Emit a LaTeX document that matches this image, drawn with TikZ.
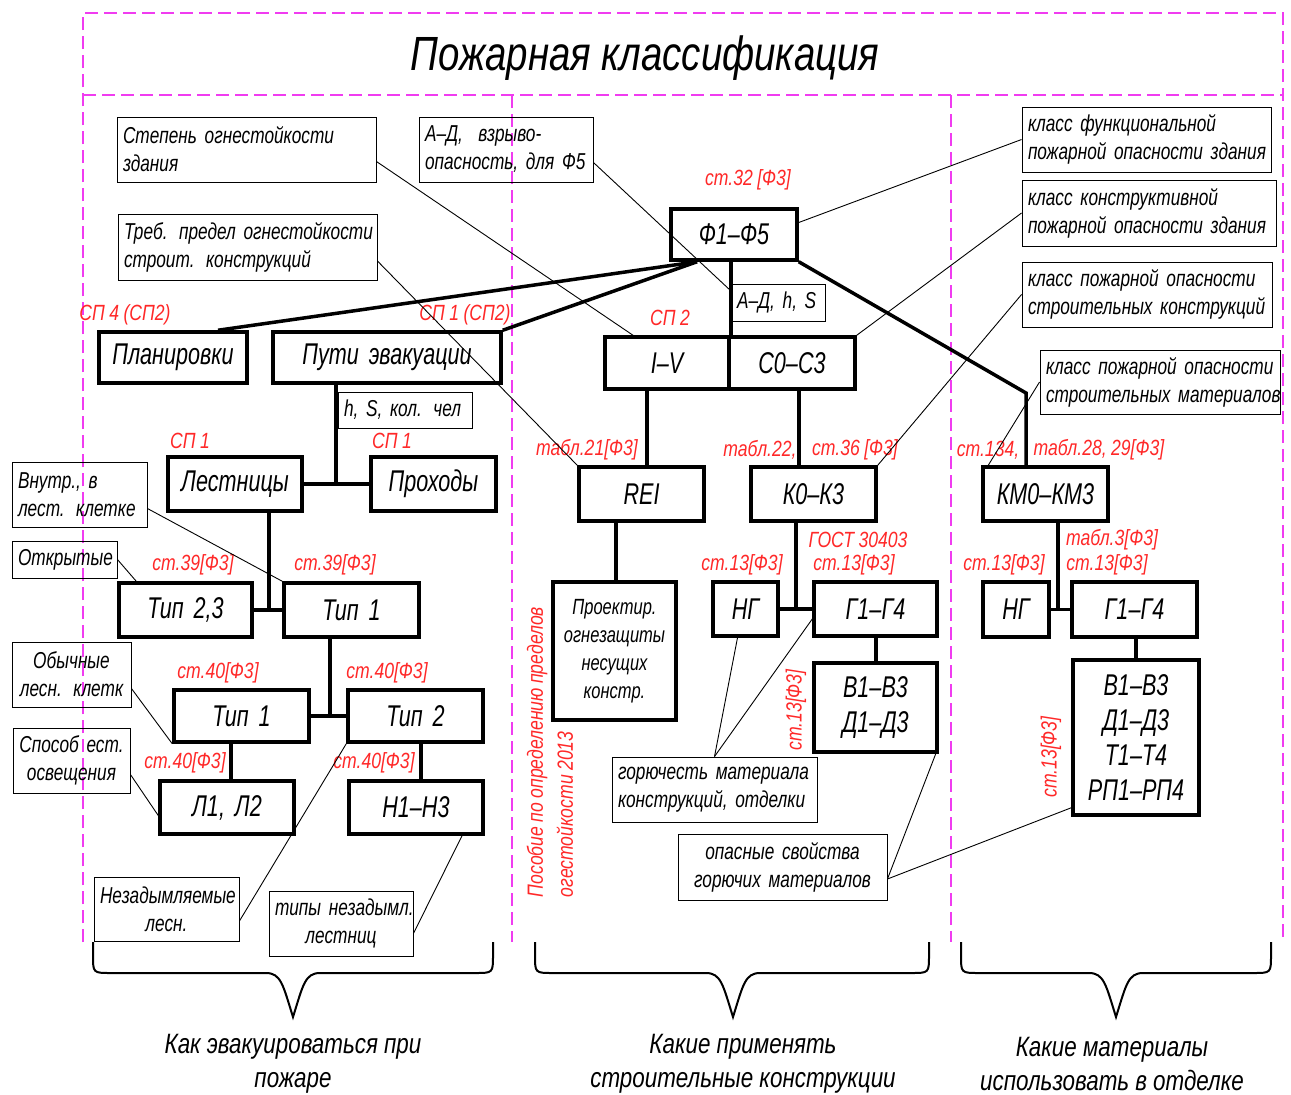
\documentclass[tikz,border=0pt]{standalone}
\usepackage{fontspec}
\setmainfont{Liberation Sans}
\newfontfamily\gostn{Liberation Sans}[FakeStretch=0.72]
\newfontfamily\gostc{Liberation Sans}[FakeStretch=0.75]
\newfontfamily\gostr{Liberation Sans}[FakeStretch=0.80]
\definecolor{rred}{RGB}{255,40,40}
\definecolor{mag}{RGB}{240,60,240}
\newcommand\rkl[1]{\mbox{#1}}
\newcommand\rkbox[8]{%
  \pgfmathsetmacro\rkcx{(#3+#5)/2}%
  \pgfmathsetmacro\rkcy{(#4+#6)/2}%
  \pgfmathsetmacro\rkw{#5-#3}%
  \pgfmathsetmacro\rkh{#6-#4}%
  \pgfmathsetmacro\rktw{#5-#3-12}%
  \node[#1, minimum width=\rkw pt, minimum height=\rkh pt, text width=\rktw pt, align=#7] (#2) at (\rkcx,\rkcy) {#8};%
}
\tikzset{
 cb/.style={draw, line width=0.9pt, inner xsep=6pt, inner ysep=0pt, font={\gostc\itshape\fontsize{23}{28}\selectfont\spaceskip=0.2em\relax}},
 mb/.style={draw, line width=3.5pt, inner xsep=6pt, inner ysep=0pt, font={\gostn\itshape\fontsize{30}{35}\selectfont\spaceskip=0.18em\relax}},
 rl/.style={text=rred, inner sep=0pt, font={\gostr\itshape\fontsize{22}{30}\selectfont\spaceskip=0.2em\relax}},
 tl/.style={line width=3.5pt},
 thl/.style={line width=0.9pt},
 dl/.style={draw=mag, line width=1.3pt, dash pattern=on 13pt off 6pt},
 br/.style={line width=2pt},
 bt/.style={font={\gostr\itshape\fontsize{28}{34}\selectfont\spaceskip=0.22em\relax}, align=center},
}
\begin{document}
\begin{tikzpicture}[x=1pt,y=-1pt]
\fill[white] (0,0) rectangle (1291,1095);
\useasboundingbox (0,0) rectangle (1291,1095);
% dashed frame
\draw[dl] (83,942) -- (83,13) -- (1283,13) -- (1283,942);
\draw[dl] (83,95) -- (1283,95);
\draw[dl] (512,95) -- (512,942);
\draw[dl] (951,95) -- (951,942);
\node[font={\gostr\itshape\fontsize{48}{56}\selectfont\spaceskip=0.22em\relax}] (title) at (645,58) {Пожарная классификация};

% main boxes
\rkbox{mb}{f}{671}{209}{797}{260}{center}{Ф1–Ф5}
\rkbox{mb}{plan}{99}{332}{247}{383}{center}{Планировки}
\rkbox{mb}{puti}{273}{332}{501}{383}{center}{Пути эвакуации}
\rkbox{mb}{iv}{605}{337}{729}{389}{center}{I–V}
\rkbox{mb}{co}{729}{337}{855}{389}{center}{С0–С3}
\rkbox{mb}{lest}{168}{457}{302}{511}{center}{Лестницы}
\rkbox{mb}{prox}{371}{457}{496}{511}{center}{Проходы}
\rkbox{mb}{t23}{119}{583}{252}{637}{center}{Тип 2,3}
\rkbox{mb}{t1}{284}{583}{419}{637}{center}{Тип 1}
\rkbox{mb}{tp1}{174}{690}{309}{742}{center}{Тип 1}
\rkbox{mb}{tp2}{348}{690}{483}{742}{center}{Тип 2}
\rkbox{mb}{l12}{160}{781}{294}{834}{center}{Л1, Л2}
\rkbox{mb}{h13}{349}{781}{483}{834}{center}{Н1–Н3}
\rkbox{mb}{rei}{579}{467}{704}{521}{center}{REI}
\rkbox{mb,font=\gostc\itshape\fontsize{22}{28}\selectfont}{proj}{553}{582}{676}{720}{center}{\rkl{Проектир.}\\\rkl{огнезащиты}\\\rkl{несущих}\\\rkl{констр.}}
\rkbox{mb}{ko}{751}{467}{876}{521}{center}{К0–К3}
\rkbox{mb}{ng1}{713}{582}{778}{636}{center}{НГ}
\rkbox{mb}{g1}{814}{582}{937}{636}{center}{Г1–Г4}
\rkbox{mb}{vd}{814}{663}{937}{752}{center}{В1–В3\\Д1–Д3}
\rkbox{mb}{kmo}{983}{467}{1108}{521}{center}{КМ0–КМ3}
\rkbox{mb}{ng2}{983}{582}{1049}{637}{center}{НГ}
\rkbox{mb}{g2}{1072}{582}{1197}{637}{center}{Г1–Г4}
\rkbox{mb}{big}{1073}{660}{1199}{815}{center}{В1–В3\\Д1–Д3\\Т1–Т4\\РП1–РП4}

% callout boxes
\rkbox{cb}{cstep}{117}{117}{376}{182}{left}{\rkl{Степень огнестойкости}\\\rkl{здания}}
\rkbox{cb}{ctreb}{118}{214}{377}{280}{left}{\rkl{Треб. предел огнестойкости}\\\rkl{строит. конструкций}}
\rkbox{cb}{cad}{419}{117}{593}{182}{left}{\rkl{А–Д,~ взрыво-}\\\rkl{опасность, для Ф5}}
\rkbox{cb}{cfunc}{1022}{107}{1271}{172}{left}{\rkl{класс функциональной}\\\rkl{пожарной опасности здания}}
\rkbox{cb}{ckonstr}{1022}{180}{1276}{246}{left}{\rkl{класс конструктивной}\\\rkl{пожарной опасности здания}}
\rkbox{cb}{ckons}{1022}{262}{1272}{327}{left}{\rkl{класс пожарной опасности}\\\rkl{строительных конструкций}}
\rkbox{cb}{cmat}{1040}{350}{1280}{414}{left}{\rkl{класс пожарной опасности}\\\rkl{строительных материалов}}
\rkbox{cb}{cvnutr}{12}{462}{147}{527}{left}{\rkl{Внутр., в}\\\rkl{лест. клетке}}
\rkbox{cb}{cotkr}{12}{541}{117}{578}{left}{\rkl{Открытые}}
\rkbox{cb}{cobych}{12}{642}{131}{707}{center}{\rkl{Обычные}\\\rkl{лесн. клетк}}
\rkbox{cb}{cspos}{13}{728}{130}{793}{center}{\rkl{Способ ест.}\\\rkl{освещения}}
\rkbox{cb}{cnezad}{94}{877}{239}{941}{center}{\rkl{Незадымляемые}\\\rkl{лесн.}}
\rkbox{cb}{ctipy}{269}{891}{413}{956}{center}{\rkl{типы незадымл.}\\\rkl{лестниц}}
\rkbox{cb}{cgor}{612}{757}{817}{822}{left}{\rkl{горючесть материала}\\\rkl{конструкций, отделки}}
\rkbox{cb}{cop}{678}{834}{887}{900}{center}{\rkl{опасные свойства}\\\rkl{горючих материалов}}
\rkbox{cb}{chs}{338}{392}{472}{428}{left}{\rkl{h, S, кол. чел}}
\rkbox{cb}{cadhs}{731}{284}{825}{321}{left}{\rkl{А–Д, h, S}}

% red labels
\node[rl] (r1) at (748,180) {ст.32 [Ф3]};
\node[rl] (r2) at (125,315) {СП 4 (СП2)};
\node[rl] (r3) at (465,315) {СП 1 (СП2)};
\node[rl] (r4) at (670,318) {СП 2};
\node[rl] (r5) at (190,441) {СП 1};
\node[rl] (r6) at (392,441) {СП 1};
\node[rl] (r7) at (193,565) {ст.39[Ф3]};
\node[rl] (r8) at (335,565) {ст.39[Ф3]};
\node[rl] (r9) at (218,673) {ст.40[Ф3]};
\node[rl] (r10) at (387,673) {ст.40[Ф3]};
\node[rl] (r11) at (185,763) {ст.40[Ф3]};
\node[rl] (r12) at (374,763) {ст.40[Ф3]};
\node[rl] (r13) at (587,450) {табл.21[Ф3]};
\node[rl] (r14) at (760,450) {табл.22,};
\node[rl] (r15) at (855,450) {ст.36 [Ф3]};
\node[rl] (r16) at (858,540) {ГОСТ 30403};
\node[rl] (r17) at (742,565) {ст.13[Ф3]};
\node[rl] (r18) at (854,565) {ст.13[Ф3]};
\node[rl] (r19) at (988,450) {ст.134,};
\node[rl] (r20) at (1099,450) {табл.28, 29[Ф3]};
\node[rl] (r21) at (1112,540) {табл.3[Ф3]};
\node[rl] (r22) at (1004,565) {ст.13[Ф3]};
\node[rl] (r23) at (1107,565) {ст.13[Ф3]};
\node[rl, rotate=90] (r24) at (796,710) {ст.13[Ф3]};
\node[rl, rotate=90] (r25) at (1051,757) {ст.13[Ф3]};
\node[rl, rotate=90, align=left] (r26) at (550,752) {Пособие по определению пределов\\огестойкости 2013};

% helper coordinates
\coordinate (kb) at (1026,393);
\coordinate (j1) at (336,484);
\coordinate (j2) at (269,609);
\coordinate (j3) at (330,716);
\coordinate (j5) at (796,609);
\coordinate (j6) at (1058,609);
\coordinate (x231) at (231,760);
\coordinate (x421) at (421,760);
\coordinate (x647) at (647,430);
\coordinate (x616) at (616,550);
\coordinate (x799) at (799,430);
\coordinate (x876) at (876,650);
\coordinate (x1136) at (1136,650);

% thick connectors
\draw[tl] ([xshift=-37pt]f.south) -- ([xshift=45pt]plan.north);
\draw[tl] ([xshift=-37pt]f.south) -- (puti.north east);
\draw[tl] (iv.north east |- f.south) -- (iv.north east);
\draw[tl] (f.south east) -- (kb) -- (kb |- kmo.north);
\draw[tl] (j1 |- puti.south) -- (j1);
\draw[tl] (lest.east) -- (prox.west);
\draw[tl] (j2 |- lest.south) -- (j2);
\draw[tl] (t23.east) -- (t1.west);
\draw[tl] (j3 |- t1.south) -- (j3);
\draw[tl] (tp1.east) -- (tp2.west);
\draw[tl] (x231 |- tp1.south) -- (x231 |- l12.north);
\draw[tl] (x421 |- tp2.south) -- (x421 |- h13.north);
\draw[tl] (x647 |- iv.south) -- (x647 |- rei.north);
\draw[tl] (x616 |- rei.south) -- (x616 |- proj.north);
\draw[tl] (x799 |- co.south) -- (x799 |- ko.north);
\draw[tl] (j5 |- ko.south) -- (j5);
\draw[tl] (ng1.east) -- (g1.west);
\draw[tl] (x876 |- g1.south) -- (x876 |- vd.north);
\draw[tl] (j6 |- kmo.south) -- (j6);
\draw[tl] (ng2.east) -- (g2.west);
\draw[tl] (x1136 |- g2.south) -- (x1136 |- big.north);

% thin callout connectors
\draw[thl] ([yshift=-12pt]cstep.east) -- ([xshift=-34pt]iv.north);
\draw[thl] ([yshift=-14pt]ctreb.east) -- (rei.north west);
\draw[thl] ([yshift=-13pt]cad.east) -- ([yshift=-7pt]cadhs.north west);
\draw[thl] (cfunc.west) -- ([yshift=12pt]f.east);
\draw[thl] (ckonstr.west) -- (co.north east);
\draw[thl] (ckons.west) -- (ko.north east);
\draw[thl] (cmat.west) -- ([xshift=7pt]kmo.north west);
\draw[thl] ([yshift=-14pt]cvnutr.east) -- (t1.north west);
\draw[thl] (cotkr.east) -- ([xshift=19pt]t23.north west);
\draw[thl] ([yshift=-14pt]cobych.east) -- (tp1.south west);
\draw[thl] ([yshift=-14pt]cspos.east) -- ([yshift=-8pt]l12.west);
\draw[thl] ([yshift=-12pt]cnezad.east) -- (tp2.south west);
\draw[thl] ([yshift=-10pt]ctipy.east) -- ([xshift=46pt]h13.south);
\draw[thl] (cgor.north) -- ([xshift=-8pt]ng1.south);
\draw[thl] (cgor.north) -- ([yshift=-10pt]g1.west);
\draw[thl] ([yshift=-12pt]cop.east) -- ([xshift=-3pt]vd.south east);
\draw[thl] ([yshift=-12pt]cop.east) -- ([yshift=9pt]big.south west);

% braces
\draw[br] (93,942) -- (93,955) .. controls (93,973) .. (111,973) -- (266,973) .. controls (281,973) and (283,985) .. (293,1017) .. controls (303,985) and (305,973) .. (320,973) -- (475,973) .. controls (493,973) .. (493,955) -- (493,942);
\draw[br] (535,942) -- (535,955) .. controls (535,973) .. (553,973) -- (706,973) .. controls (721,973) and (723,985) .. (733,1017) .. controls (743,985) and (745,973) .. (760,973) -- (911,973) .. controls (929,973) .. (929,955) -- (929,942);
\draw[br] (961,942) -- (961,955) .. controls (961,973) .. (979,973) -- (1089,973) .. controls (1104,973) and (1106,985) .. (1116,1017) .. controls (1126,985) and (1128,973) .. (1143,973) -- (1253,973) .. controls (1271,973) .. (1271,955) -- (1271,942);

\node[bt] (bt1) at (293,1064) {Как эвакуироваться при\\пожаре};
\node[bt] (bt2) at (743,1064) {Какие применять\\строительные конструкции};
\node[bt] (bt3) at (1112,1064) {Какие материалы\\использовать в отделке};
\end{tikzpicture}
\end{document}
